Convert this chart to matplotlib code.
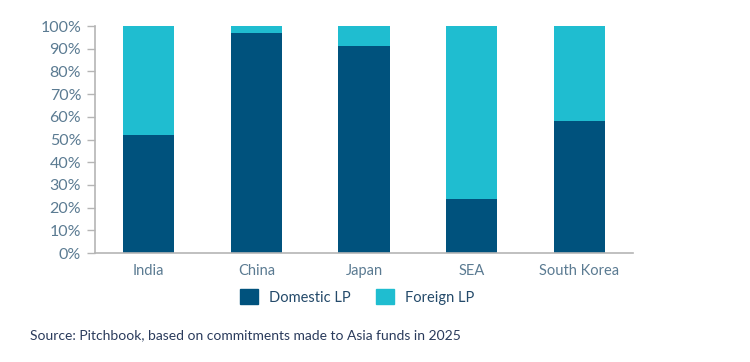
import matplotlib
matplotlib.use("Agg")
import matplotlib.pyplot as plt
from matplotlib.patches import Patch

plt.rcParams.update({"font.family": ["Lato", "DejaVu Sans"]})

regions = ["India", "China", "Japan", "SEA", "South Korea"]
domestic = [52, 97, 91, 24, 58]
foreign = [100 - d for d in domestic]
yticks = list(range(0, 101, 10))

DOM_COLOR = "#00527d"
FOR_COLOR = "#1fbdd0"
TICK_COLOR = "#5b7b92"
SPINE_COLOR = "#b5b5b5"

fig = plt.figure(figsize=(7.5, 3.62), dpi=100)
ax = fig.add_axes([0.1267, 0.301, 0.7173, 0.627])
x = range(len(regions))
ax.bar(x, domestic, width=0.475, color=DOM_COLOR)
ax.bar(x, foreign, width=0.475, bottom=domestic, color=FOR_COLOR)

ax.set_xlim(-0.5, len(regions) - 0.5)
ax.set_ylim(0, 100)
ax.set_yticks(yticks)
ax.set_yticklabels([f"{v}%" for v in yticks])
ax.set_xticks(list(x))
ax.set_xticklabels(regions)
for s in ("top", "right"):
    ax.spines[s].set_visible(False)
for s in ("left", "bottom"):
    ax.spines[s].set_color(SPINE_COLOR)
    ax.spines[s].set_linewidth(1.2)
ax.tick_params(axis="y", length=6, width=1, color=SPINE_COLOR, labelsize=11.5,
               labelcolor=TICK_COLOR, pad=4)
ax.tick_params(axis="x", length=0, labelsize=10.5, labelcolor=TICK_COLOR, pad=8)

handles = [Patch(color=DOM_COLOR, label="Domestic LP"), Patch(color=FOR_COLOR, label="Foreign LP")]
fig.legend(handles=handles, loc="center", bbox_to_anchor=(0.476, 0.18), ncol=2, frameon=False,
           fontsize=10.5, labelcolor="#244a6a", handlelength=1.25, handleheight=1.25,
           handletextpad=0.75, columnspacing=1.7)

fig.text(0.04, 0.075, "Source: Pitchbook, based on commitments made to Asia funds in 2025",
         fontsize=10, color="#2a3b5c", va="center")

fig.savefig("out.png", dpi=100)
